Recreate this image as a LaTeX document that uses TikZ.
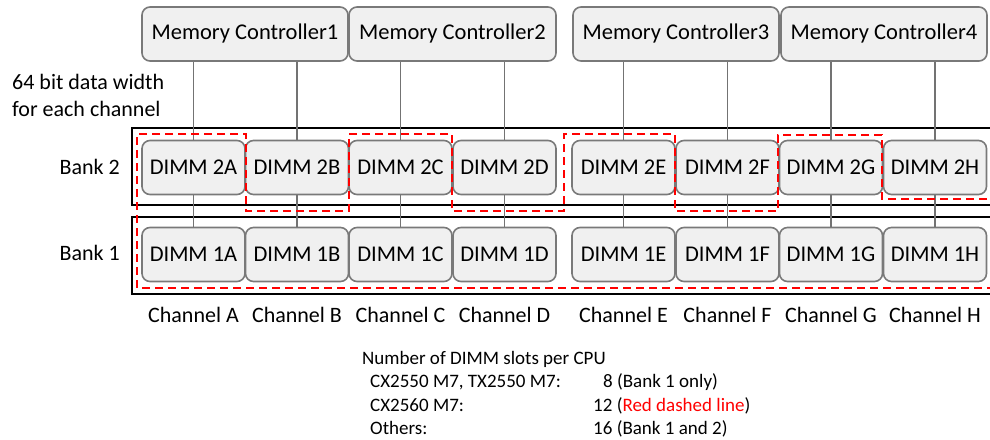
\documentclass[tikz,border=0pt]{standalone}
\usepackage{fontspec}
\setmainfont{Carlito}
\begin{document}
\begin{tikzpicture}[x=1pt,y=-1pt,
  box/.style={draw=gray!95!black,line width=1.6pt,fill=black!6,rounded corners=8pt,inner sep=0pt,font=\fontsize{22.5}{26}\selectfont},
  mcbox/.style={box,minimum height=54pt},
  dimm/.style={box,minimum width=103pt,minimum height=54pt},
  conn/.style={draw=gray!90!black,line width=1.6pt},
  bankbox/.style={draw=black,line width=1.1pt},
  reddash/.style={draw=red,line width=2pt,dash pattern=on 8pt off 5pt},
  lbl/.style={inner sep=0pt,font=\fontsize{22}{26}\selectfont},
  small/.style={inner sep=0pt,anchor=base west,font=\fontsize{19}{22}\selectfont}]
\useasboundingbox (0,0) rectangle (990,439);
% bank frames
\draw[bankbox] (995,128) -- (132,128) -- (132,205) -- (995,205);
\draw[bankbox] (995,217) -- (132,217) -- (132,294) -- (995,294);
% memory controllers
\node[mcbox,minimum width=206pt] (mc1) at (245,34) {Memory Controller1};
\node[mcbox,minimum width=207pt] (mc2) at (452.5,34) {Memory Controller2};
\node[mcbox,minimum width=206pt] (mc3) at (676,34) {Memory Controller3};
\node[mcbox,minimum width=206pt] (mc4) at (884,34) {Memory Controller4};
% DIMMs
\foreach \c/\x in {A/193.5,B/297,C/400.5,D/504.5,E/623.5,F/727.5,G/831,H/935}{
  \node[dimm] (d2\c) at (\x,167.5) {DIMM 2\c};
  \node[dimm] (d1\c) at (\x,254.5) {DIMM 1\c};
  \node[lbl] (ch\c) at (\x,315) {Channel \c};
}
\foreach \c/\m in {A/mc1,B/mc1,C/mc2,D/mc2,E/mc3,F/mc3,G/mc4,H/mc4}{
  \draw[conn] (d2\c.north) -- (d2\c.north |- \m.south);
  \draw[conn] (d1\c.north) -- (d2\c.south);
}
% red dashed outline
\draw[reddash] (1000,199) -- (882,199) -- (882,135) -- (778,135) -- (778,211) -- (675,211) -- (675,134) -- (564,134) -- (564,211) -- (452,211) -- (452,134) -- (349,134) -- (349,211) -- (246,211) -- (246,134) -- (137,134) -- (137,288) -- (1000,288);
% left labels
\node[lbl,anchor=base west] (w1) at (12,89) {64 bit data width};
\node[lbl,anchor=base west] (w2) at (12,116) {for each channel};
\node[lbl,anchor=east] (b2) at (120,167) {Bank 2};
\node[lbl,anchor=east] (b1) at (120,253) {Bank 1};
% bottom notes
\node[small] (n0) at (362,364) {Number of DIMM slots per CPU};
\node[small] (n1) at (370,387) {CX2550 M7, TX2550 M7:};
\node[small] (n2) at (370,411) {CX2560 M7:};
\node[small] (n3) at (370,434) {Others:};
\node[small] (v1) at (603,387) {8 (Bank 1 only)};
\node[small] (v2) at (593,411) {12 (\textcolor{red}{Red dashed line})};
\node[small] (v3) at (593,434) {16 (Bank 1 and 2)};
\end{tikzpicture}
\end{document}
